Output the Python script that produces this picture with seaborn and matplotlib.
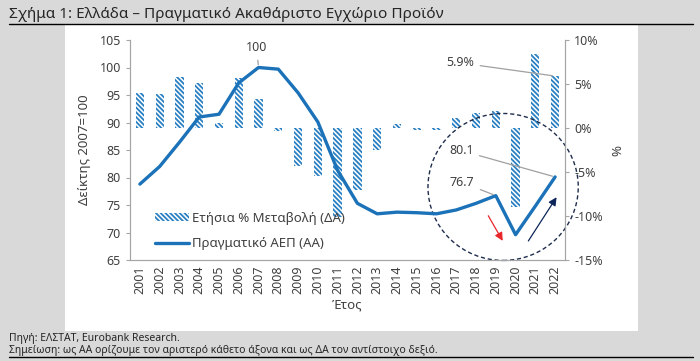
import numpy as np
import pandas as pd
import seaborn as sns
import matplotlib.pyplot as plt
from matplotlib.patches import Rectangle, Ellipse, Patch
from matplotlib.lines import Line2D

# === 資料 ===
years = [str(y) for y in range(2001, 2023)]
gdp_index = [78.8, 82.0, 86.4, 91.0, 91.5, 97.2, 100.0, 99.7, 95.4, 90.1, 81.3,
             75.3, 73.4, 73.7, 73.6, 73.4, 74.1, 75.3, 76.7, 69.6, 74.8, 80.1]
growth_pct = [4.0, 3.9, 5.8, 5.1, 0.6, 5.7, 3.3, -0.3, -4.3, -5.5, -10.1,
              -7.1, -2.5, 0.5, -0.2, -0.2, 1.1, 1.7, 1.9, -9.0, 8.4, 5.9]

df = pd.DataFrame({"year": years, "gdp": gdp_index, "growth": growth_pct})
df["pos"] = np.arange(len(df))

LINE_C = "#1b72b8"
BAR_C = "#2a80c2"
GRAY = "#404040"
SPINE = "#a6a6a6"
HATCH = "\\" * 7

sns.set_style("white")
plt.rcParams["font.family"] = ["Noto Sans", "DejaVu Sans"]
plt.rcParams["hatch.linewidth"] = 1.3
plt.rcParams["hatch.color"] = BAR_C

fig = plt.figure(figsize=(7, 3.61), dpi=100, facecolor="#d9d9d9")
fig.add_artist(Rectangle((65 / 700, 1 - 331 / 361), (638 - 65) / 700, (331 - 25) / 361,
                         transform=fig.transFigure, facecolor="white", edgecolor="none", zorder=0))

ax = fig.add_axes([130 / 700, 1 - 260 / 361, 435 / 700, 220 / 361])
ax2 = ax.twinx()

# 長條 (右軸)
sns.barplot(data=df, x="year", y="growth", ax=ax2, width=0.42, color="white",
            edgecolor=BAR_C, linewidth=0, hatch=HATCH, saturation=1)
# 線 (左軸)
sns.lineplot(data=df, x="pos", y="gdp", ax=ax, color=LINE_C, linewidth=2.4)

ax.set_zorder(ax2.get_zorder() + 1)
ax.patch.set_visible(False)
ax2.patch.set_visible(False)

ax.set_xlim(-0.5, len(df) - 0.5)
ax2.set_xlim(-0.5, len(df) - 0.5)
ax.set_ylim(65, 105)
ax.set_yticks(range(65, 106, 5))
ax2.set_ylim(-15, 10)
ax2.set_yticks(range(-15, 11, 5))
ax2.set_yticklabels([f"{v}%" for v in range(-15, 11, 5)])
ax.set_xticks(df["pos"])
ax.set_xticklabels(years, rotation=90)

for a in (ax, ax2):
    for s in a.spines.values():
        s.set_color(SPINE)
    a.spines["top"].set_visible(False)
    a.tick_params(colors=GRAY, labelsize=9, length=3, width=0.8)
    a.tick_params(axis="y", color=SPINE)
ax.tick_params(axis="x", length=0, pad=4)
ax2.tick_params(axis="x", bottom=False, labelbottom=False)

ax.set_xlabel("Έτος", color=GRAY, fontsize=9.5, labelpad=3)
ax.set_ylabel("Δείκτης 2007=100", color=GRAY, fontsize=9.5, labelpad=6)
ax2.set_ylabel("%", color=GRAY, fontsize=9.5, labelpad=6)
ax2.set_xlabel("")

# 標註
ann_line = dict(arrowstyle="-", color="#a0a0a0", lw=0.9)
peak = df.loc[df["gdp"].idxmax()]
ax.annotate("100", xy=(peak["pos"], peak["gdp"]), xytext=(5.9, 103.6),
            fontsize=9, color=GRAY, ha="center", va="center", arrowprops=ann_line)
last = df.iloc[-1]
ax.annotate(f"{last['gdp']:.1f}", xy=(last["pos"], last["gdp"]), xytext=(16.25, 84.9),
            fontsize=9, color=GRAY, ha="center", va="center", arrowprops=ann_line)
pre = df[df["year"] == "2019"].iloc[0]
ax.annotate(f"{pre['gdp']:.1f}", xy=(pre["pos"], pre["gdp"]), xytext=(16.3, 79.1),
            fontsize=9, color=GRAY, ha="center", va="center", arrowprops=ann_line)
ax2.annotate(f"{last['growth']:.1f}%", xy=(last["pos"], last["growth"]), xytext=(16.2, 7.4),
             fontsize=9, color=GRAY, ha="center", va="center", arrowprops=ann_line)

# 圓圈與箭頭
ax2.add_patch(Ellipse((18.37, -6.7), 7.6, 16.7, fill=False, linestyle=(0, (3, 2)),
                      edgecolor="#1f2d4d", lw=1, clip_on=False, zorder=5))
ax2.annotate("", xy=(18.42, -13.1), xytext=(17.55, -9.7),
             arrowprops=dict(arrowstyle="-|>", color="#e8262a", lw=0.9, mutation_scale=12))
ax2.annotate("", xy=(21.15, -7.6), xytext=(19.57, -13.1),
             arrowprops=dict(arrowstyle="-|>", color="#0c2659", lw=0.9, mutation_scale=12))

# 圖例
handles = [Patch(facecolor="white", edgecolor=BAR_C, hatch=HATCH, linewidth=0),
           Line2D([0], [0], color=LINE_C, lw=2.4)]
ax.legend(handles, ["Ετήσια % Μεταβολή (ΔΑ)", "Πραγματικό ΑΕΠ (ΑΑ)"],
          loc="upper left", bbox_to_anchor=(143 / 700, 1 - 200 / 361),
          bbox_transform=fig.transFigure, frameon=False, fontsize=9.5,
          labelcolor=GRAY, handlelength=2.6, handleheight=0.5, handletextpad=0.2,
          labelspacing=0.9)

# 標題與註腳
fig.text(9 / 700, 1 - 15 / 361, "Σχήμα 1: Ελλάδα – Πραγματικό Ακαθάριστο Εγχώριο Προϊόν",
         fontsize=11, color="#262626", va="center")
fig.add_artist(Line2D([9 / 700, 693 / 700], [1 - 24 / 361] * 2, color="black", lw=1))
fig.text(9 / 700, 1 - 338 / 361, "Πηγή: ΕΛΣΤΑΤ, Eurobank Research.",
         fontsize=7.5, color="#262626", va="center")
fig.text(9 / 700, 1 - 350 / 361,
         "Σημείωση: ως ΑΑ ορίζουμε τον αριστερό κάθετο άξονα και ως ΔΑ τον αντίστοιχο δεξιό.",
         fontsize=7.5, color="#262626", va="center")
fig.add_artist(Line2D([9 / 700, 693 / 700], [1 - 357 / 361] * 2, color="black", lw=1))

fig.savefig("out.png", dpi=100, facecolor=fig.get_facecolor())
